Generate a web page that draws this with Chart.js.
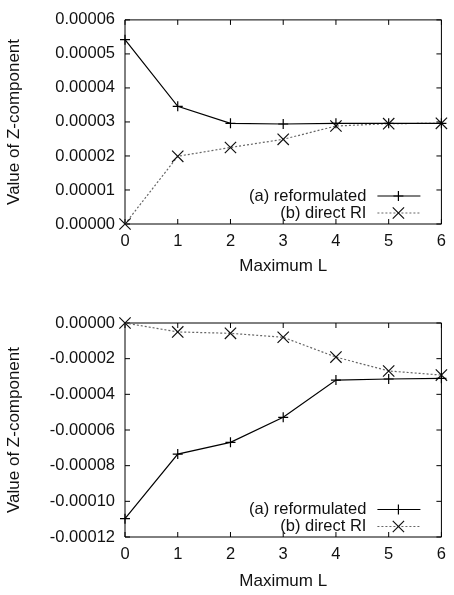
<!DOCTYPE html>
<html>
<head>
<meta charset="utf-8">
<script src="https://cdn.jsdelivr.net/npm/chart.js@4.4.0/dist/chart.umd.min.js"></script>
<style>
  html, body { margin: 0; padding: 0; background: #fff; }
  #wrap { position: relative; width: 454px; height: 595px; }
  .panel { position: absolute; left: 0; width: 454px; }
</style>
</head>
<body>
<div id="wrap">
  <div class="panel" style="top:0;height:282px"><canvas id="chartTop"></canvas></div>
  <div class="panel" style="top:282px;height:313px"><canvas id="chartBottom"></canvas></div>
</div>
<script>
// x values (Maximum L)
const maxL = [0, 1, 2, 3, 4, 5, 6];

// upper panel
const topReformulated = [0.0000542, 0.0000346, 0.0000296, 0.0000294, 0.0000296, 0.0000296, 0.0000296];
const topDirectRI     = [0.0000000, 0.0000199, 0.0000225, 0.0000249, 0.0000288, 0.0000295, 0.0000296];
const topYTicks = [0, 0.00001, 0.00002, 0.00003, 0.00004, 0.00005, 0.00006];

// lower panel
const bottomReformulated = [-0.0001097, -0.0000735, -0.0000669, -0.0000529, -0.0000320, -0.0000314, -0.0000310];
const bottomDirectRI     = [0.0000000, -0.0000050, -0.0000058, -0.0000080, -0.0000191, -0.0000269, -0.0000292];
const bottomYTicks = [-0.00012, -0.00010, -0.00008, -0.00006, -0.00004, -0.00002, 0];

const seriesLabels = ['(a) reformulated', '(b) direct RI'];

const FONT = '"Liberation Sans", Arial, Helvetica, sans-serif';
const INK = '#111';

// gnuplot style box with inward tick marks on all four sides
const frameTicks = {
    id: 'frameTicks',
    beforeDatasetsDraw(chart) {
        const { ctx, chartArea: a, scales: { x, y } } = chart;
        ctx.save();
        ctx.strokeStyle = '#000';
        ctx.lineWidth = 1;
        ctx.beginPath();
        x.ticks.forEach(t => {
            const px = x.getPixelForValue(t.value);
            ctx.moveTo(px, a.bottom); ctx.lineTo(px, a.bottom - 5);
            ctx.moveTo(px, a.top); ctx.lineTo(px, a.top + 5);
        });
        y.ticks.forEach(t => {
            const py = y.getPixelForValue(t.value);
            ctx.moveTo(a.left, py); ctx.lineTo(a.left + 5, py);
            ctx.moveTo(a.right, py); ctx.lineTo(a.right - 5, py);
        });
        ctx.rect(a.left, a.top, a.right - a.left, a.bottom - a.top);
        ctx.stroke();
        ctx.restore();
    }
};

// key in the lower right corner: text first, then line sample with marker
const keyBox = {
    id: 'keyBox',
    afterDraw(chart, args, opts) {
        const { ctx, chartArea: a } = chart;
        ctx.save();
        ctx.font = '16.5px ' + FONT;
        ctx.textAlign = 'right';
        ctx.textBaseline = 'middle';
        chart.data.datasets.forEach((ds, i) => {
            const yy = a.bottom - opts.rows[i];
            ctx.fillStyle = INK;
            ctx.fillText(ds.label, a.right - 75, yy);
            ctx.strokeStyle = ds.borderColor;
            ctx.lineWidth = ds.borderWidth;
            ctx.setLineDash(ds.borderDash || []);
            ctx.beginPath();
            ctx.moveTo(a.right - 64, yy);
            ctx.lineTo(a.right - 21, yy);
            ctx.stroke();
            ctx.setLineDash([]);
            ctx.strokeStyle = ds.pointBorderColor;
            Chart.helpers.drawPoint(ctx, {
                pointStyle: ds.pointStyle,
                radius: ds.pointRadius,
                rotation: 0,
                borderWidth: ds.pointBorderWidth
            }, a.right - 43, yy);
        });
        ctx.restore();
    }
};

function makeChart(id, reformulated, directRI, yTicks, padTop, titlePad, keyRows) {
    const lo = yTicks[0];
    const hi = yTicks[yTicks.length - 1];
    const step = yTicks[1] - yTicks[0];
    return new Chart(document.getElementById(id), {
        type: 'line',
        data: {
            datasets: [
                {
                    label: seriesLabels[0],
                    data: maxL.map((l, i) => ({ x: l, y: reformulated[i] })),
                    borderColor: '#000',
                    borderWidth: 1.2,
                    pointStyle: 'cross',
                    pointRadius: 5,
                    pointBorderColor: '#000',
                    pointBorderWidth: 1.2,
                    fill: false,
                    tension: 0,
                    clip: false
                },
                {
                    label: seriesLabels[1],
                    data: maxL.map((l, i) => ({ x: l, y: directRI[i] })),
                    borderColor: '#666',
                    borderWidth: 1.2,
                    borderDash: [2, 2],
                    pointStyle: 'crossRot',
                    pointRadius: 8,
                    pointBorderColor: '#111',
                    pointBorderWidth: 1.2,
                    fill: false,
                    tension: 0,
                    clip: false
                }
            ]
        },
        options: {
            responsive: true,
            maintainAspectRatio: false,
            animation: false,
            layout: { padding: { top: padTop, right: 5, left: 0, bottom: 0 } },
            plugins: {
                legend: { display: false },
                tooltip: { enabled: false },
                keyBox: { rows: keyRows }
            },
            scales: {
                x: {
                    type: 'linear',
                    min: maxL[0],
                    max: maxL[maxL.length - 1],
                    border: { display: false },
                    grid: { display: false, drawTicks: false },
                    ticks: {
                        stepSize: 1,
                        padding: 8,
                        color: INK,
                        font: { family: FONT, size: 16.5 },
                        maxRotation: 0
                    },
                    title: {
                        display: true,
                        text: 'Maximum L',
                        color: INK,
                        font: { family: FONT, size: 17 },
                        padding: { top: 0, bottom: titlePad }
                    },
                    afterFit(scale) { scale.height = 58; }
                },
                y: {
                    type: 'linear',
                    min: lo,
                    max: hi,
                    border: { display: false },
                    grid: { display: false, drawTicks: false },
                    ticks: {
                        stepSize: step,
                        padding: 10,
                        color: INK,
                        font: { family: FONT, size: 16.5 },
                        callback(v) {
                            return (Math.abs(v) < 1e-12 ? 0 : v).toFixed(5);
                        }
                    },
                    afterBuildTicks(scale) {
                        scale.ticks = yTicks.map(v => ({ value: v }));
                    },
                    title: {
                        display: true,
                        text: 'Value of Z-component',
                        color: INK,
                        font: { family: FONT, size: 17 },
                        padding: { top: 4.5, bottom: 0 }
                    },
                    afterFit(scale) { scale.width = 125; }
                }
            }
        },
        plugins: [frameTicks, keyBox]
    });
}

makeChart('chartTop', topReformulated, topDirectRI, topYTicks, 11, 5, [28, 11]);
makeChart('chartBottom', bottomReformulated, bottomDirectRI, bottomYTicks, 41, 3, [27.5, 10.5]);
</script>
</body>
</html>
